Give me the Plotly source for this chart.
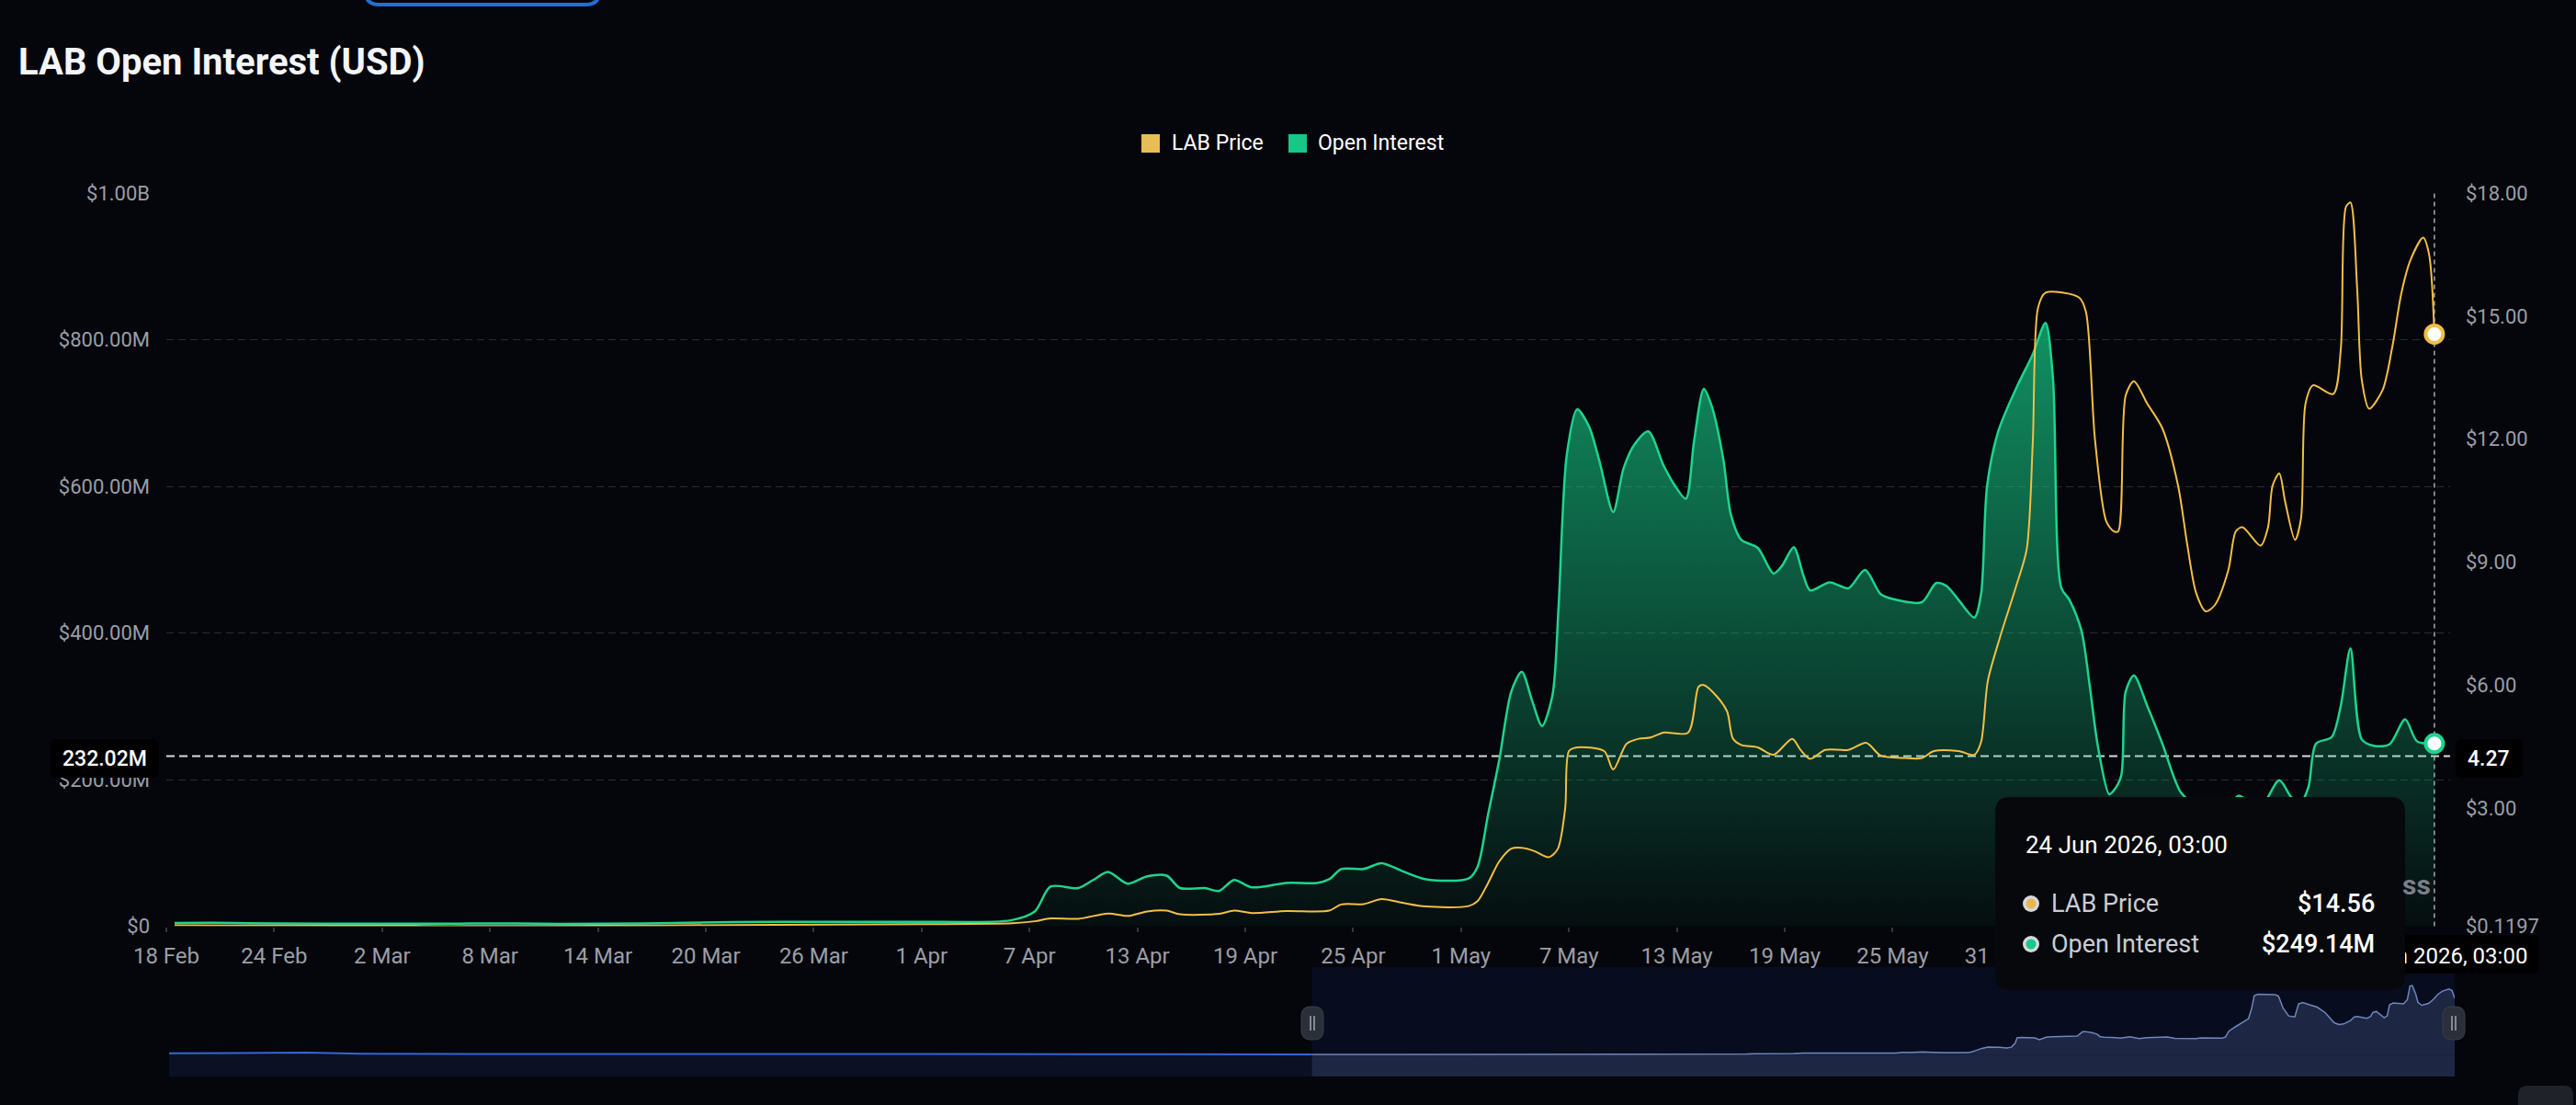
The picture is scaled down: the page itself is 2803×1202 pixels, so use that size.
import plotly.graph_objects as go

# ---------------- data ----------------
oi_dates = [
    "2026-02-18 11:00", "2026-02-20 12:00", "2026-02-24 02:00", "2026-03-01 05:00", "2026-03-06 08:00",
    "2026-03-09 09:00", "2026-03-11 22:00", "2026-03-16 13:00", "2026-03-21 15:00", "2026-03-26 18:00",
    "2026-03-29 20:00", "2026-03-31 21:00", "2026-04-05 23:00", "2026-04-07 07:00", "2026-04-08 04:00",
    "2026-04-09 17:00", "2026-04-10 13:00", "2026-04-11 09:00", "2026-04-12 11:00", "2026-04-13 13:00",
    "2026-04-14 15:00", "2026-04-15 09:00", "2026-04-16 18:00", "2026-04-17 13:00", "2026-04-18 09:00",
    "2026-04-19 09:00", "2026-04-21 07:00", "2026-04-23 00:00", "2026-04-23 16:00", "2026-04-24 08:00",
    "2026-04-25 14:00", "2026-04-26 14:00", "2026-04-27 18:00", "2026-04-29 01:00", "2026-05-01 10:00",
    "2026-05-01 22:00", "2026-05-02 12:00", "2026-05-03 03:00", "2026-05-03 19:00", "2026-05-04 09:00",
    "2026-05-04 23:00", "2026-05-05 12:00", "2026-05-06 02:00", "2026-05-06 10:00", "2026-05-06 21:00",
    "2026-05-07 11:00", "2026-05-08 03:00", "2026-05-08 17:00", "2026-05-09 11:00", "2026-05-10 01:00",
    "2026-05-10 16:00", "2026-05-11 10:00", "2026-05-12 06:00", "2026-05-12 22:00", "2026-05-13 12:00",
    "2026-05-13 23:00", "2026-05-14 12:00", "2026-05-14 23:00", "2026-05-15 14:00", "2026-05-16 00:00",
    "2026-05-16 14:00", "2026-05-17 12:00", "2026-05-18 09:00", "2026-05-18 20:00", "2026-05-19 12:00",
    "2026-05-20 01:00", "2026-05-20 10:00", "2026-05-21 12:00", "2026-05-22 13:00", "2026-05-23 11:00",
    "2026-05-24 08:00", "2026-05-25 01:00", "2026-05-26 15:00", "2026-05-27 10:00", "2026-05-28 00:00",
    "2026-05-28 16:00", "2026-05-29 13:00", "2026-05-29 22:00", "2026-05-30 06:00", "2026-05-30 21:00",
    "2026-05-31 21:00", "2026-06-01 19:00", "2026-06-02 12:00", "2026-06-02 22:00", "2026-06-03 09:00",
    "2026-06-03 20:00", "2026-06-04 12:00", "2026-06-04 23:00", "2026-06-05 10:00", "2026-06-06 01:00",
    "2026-06-06 07:00", "2026-06-06 17:00", "2026-06-06 23:00", "2026-06-07 10:00", "2026-06-08 04:00",
    "2026-06-09 00:00", "2026-06-10 01:00", "2026-06-11 04:00", "2026-06-12 04:00", "2026-06-13 06:00",
    "2026-06-14 09:00", "2026-06-15 12:00", "2026-06-16 04:00", "2026-06-16 16:00", "2026-06-17 03:00",
    "2026-06-17 13:00", "2026-06-18 10:00", "2026-06-18 22:00", "2026-06-19 11:00", "2026-06-20 02:00",
    "2026-06-20 18:00", "2026-06-21 15:00", "2026-06-22 12:00", "2026-06-23 04:00", "2026-06-24 03:00",
]
oi_values = [  # USD millions
    4.5, 4.6, 3.8, 3.5, 3.6,
    3.8, 3.2, 3.8, 5.5, 6.0,
    5.8, 6.0, 8.0, 20, 54,
    52, 63, 74, 58, 68,
    69, 52, 52, 48, 63,
    53, 59, 59, 64, 78,
    78, 86, 75, 64, 65,
    81, 152, 227, 320, 347,
    307, 273, 315, 433, 642,
    705, 681, 633, 565, 625,
    658, 675, 629, 600, 583,
    662, 733, 708, 637, 562,
    527, 516, 481, 491, 517,
    478, 458, 469, 461, 486,
    453, 446, 442, 468, 464,
    445, 421, 453, 600, 675,
    734, 780, 823, 747, 462,
    445, 403, 328, 245, 180,
    185, 205, 320, 342, 300,
    249, 182, 160, 150, 178,
    160, 199, 176, 168, 190,
    249, 258, 300, 379, 255,
    246, 248, 282, 252, 249.14,
]

price_dates = [
    "2026-02-18 11:00", "2026-02-24 02:00", "2026-03-03 18:00", "2026-03-05 19:00", "2026-03-07 08:00",
    "2026-03-14 00:00", "2026-03-21 15:00", "2026-03-26 18:00", "2026-03-31 21:00", "2026-04-06 01:00",
    "2026-04-07 07:00", "2026-04-08 04:00", "2026-04-09 17:00", "2026-04-11 09:00", "2026-04-12 11:00",
    "2026-04-13 13:00", "2026-04-14 15:00", "2026-04-15 09:00", "2026-04-17 13:00", "2026-04-18 09:00",
    "2026-04-19 09:00", "2026-04-21 07:00", "2026-04-23 16:00", "2026-04-24 08:00", "2026-04-25 14:00",
    "2026-04-26 14:00", "2026-04-27 18:00", "2026-04-29 01:00", "2026-05-01 10:00", "2026-05-01 22:00",
    "2026-05-02 12:00", "2026-05-03 03:00", "2026-05-03 19:00", "2026-05-04 09:00", "2026-05-05 02:00",
    "2026-05-05 21:00", "2026-05-06 09:00", "2026-05-06 19:00", "2026-05-07 00:00", "2026-05-07 11:00",
    "2026-05-08 23:00", "2026-05-09 11:00", "2026-05-10 05:00", "2026-05-10 21:00", "2026-05-11 13:00",
    "2026-05-12 06:00", "2026-05-13 15:00", "2026-05-14 05:00", "2026-05-14 12:00", "2026-05-15 05:00",
    "2026-05-15 19:00", "2026-05-16 03:00", "2026-05-16 14:00", "2026-05-17 12:00", "2026-05-18 09:00",
    "2026-05-19 10:00", "2026-05-19 21:00", "2026-05-20 10:00", "2026-05-21 06:00", "2026-05-22 13:00",
    "2026-05-23 13:00", "2026-05-24 08:00", "2026-05-25 17:00", "2026-05-26 15:00", "2026-05-27 07:00",
    "2026-05-28 16:00", "2026-05-29 13:00", "2026-05-29 22:00", "2026-05-30 07:00", "2026-05-30 23:00",
    "2026-05-31 21:00", "2026-06-01 11:00", "2026-06-01 19:00", "2026-06-02 02:00", "2026-06-02 12:00",
    "2026-06-04 09:00", "2026-06-04 18:00", "2026-06-05 06:00", "2026-06-05 21:00", "2026-06-06 07:00",
    "2026-06-06 13:00", "2026-06-06 23:00", "2026-06-07 10:00", "2026-06-08 04:00", "2026-06-09 00:00",
    "2026-06-09 21:00", "2026-06-10 09:00", "2026-06-10 21:00", "2026-06-11 10:00", "2026-06-11 22:00",
    "2026-06-12 16:00", "2026-06-13 02:00", "2026-06-13 11:00", "2026-06-14 11:00", "2026-06-14 21:00",
    "2026-06-15 03:00", "2026-06-15 12:00", "2026-06-15 20:00", "2026-06-16 09:00", "2026-06-16 17:00",
    "2026-06-16 23:00", "2026-06-17 09:00", "2026-06-18 12:00", "2026-06-18 22:00", "2026-06-19 05:00",
    "2026-06-19 11:00", "2026-06-19 20:00", "2026-06-20 02:00", "2026-06-20 12:00", "2026-06-21 06:00",
    "2026-06-21 19:00", "2026-06-22 07:00", "2026-06-22 19:00", "2026-06-23 12:00", "2026-06-23 20:00",
    "2026-06-24 03:00",
]
price_values = [
    0.14, 0.135, 0.13, 0.1197, 0.125,
    0.13, 0.15, 0.16, 0.17, 0.19,
    0.24, 0.31, 0.30, 0.43, 0.37,
    0.48, 0.50, 0.41, 0.42, 0.50,
    0.44, 0.49, 0.50, 0.65, 0.66,
    0.78, 0.69, 0.60, 0.61, 0.73,
    1.17, 1.70, 2.01, 2.03, 1.95,
    1.80, 2.00, 3.00, 4.39, 4.48,
    4.39, 3.94, 4.57, 4.69, 4.72,
    4.84, 4.84, 5.96, 6.00, 5.73,
    5.36, 4.69, 4.54, 4.48, 4.30,
    4.69, 4.42, 4.20, 4.42, 4.42,
    4.59, 4.28, 4.22, 4.22, 4.39,
    4.39, 4.30, 4.61, 6.10, 7.15,
    8.42, 9.32, 11.9, 15.2, 15.57,
    15.45, 15.10, 12.0, 10.0, 9.75,
    9.75, 13.06, 13.41, 12.86, 12.26,
    10.86, 9.45, 8.25, 7.80, 7.95,
    8.80, 9.75, 9.85, 9.40, 9.85,
    10.86, 11.16, 10.46, 9.54, 10.06,
    12.86, 13.31, 13.10, 14.16, 17.66,
    17.77, 15.66, 13.46, 12.74, 13.20,
    14.26, 15.56, 16.36, 16.91, 16.50,
    14.56,
]

# earlier price history shown only in the zoom slider
history_dates = [
    "2025-10-15 19:00", "2025-10-22 00:00", "2025-10-31 00:00", "2025-11-06 00:00", "2025-11-20 00:00",
    "2025-12-05 00:00", "2025-12-20 00:00", "2026-01-05 00:00", "2026-01-25 00:00", "2026-02-10 00:00",
]
history_prices = [0.45, 0.50, 0.60, 0.30, 0.25, 0.30, 0.20, 0.25, 0.20, 0.18]

# visible x tick labels (the June ones sit under the tooltip in the reference)
x_tick_dates = [
    "2026-02-18", "2026-02-24", "2026-03-02", "2026-03-08", "2026-03-14", "2026-03-20", "2026-03-26",
    "2026-04-01", "2026-04-07", "2026-04-13", "2026-04-19", "2026-04-25", "2026-05-01", "2026-05-07",
    "2026-05-13", "2026-05-19", "2026-05-25", "2026-05-31",
]
x_tick_labels = [
    "18 Feb", "24 Feb", "2 Mar", "8 Mar", "14 Mar", "20 Mar", "26 Mar", "1 Apr", "7 Apr", "13 Apr",
    "19 Apr", "25 Apr", "1 May", "7 May", "13 May", "19 May", "25 May", "31 May",
]
oi_ticks = [0, 200, 400, 600, 800, 1000]
oi_tick_labels = ["$0", "$200.00M", "$400.00M", "$600.00M", "$800.00M", "$1.00B"]
price_ticks = [0.1197, 3, 6, 9, 12, 15, 18]
price_tick_labels = ["$0.1197", "$3.00", "$6.00", "$9.00", "$12.00", "$15.00", "$18.00"]

oi_range = [0, 1000]
price_range = [0.1197, 18]
x_range = ["2026-02-18 00:00", "2026-06-25 00:00"]
slider_range = ["2025-10-15 19:00", "2026-06-24 03:00"]
slider_y_range = [-5.5, 22.5]

crosshair_oi = 232.02          # USD millions, where the pointer sits
hover_label = "24 Jun 2026, 03:00"

# ---------------- geometry helpers ----------------
W, H = 2803, 1202
ML, MR, MT, MB = 181, 132, 210, 31
PW = W - ML - MR
PH = H - MT - MB
BOTTOM = H - MB


def px(x):
    return (x - ML) / PW


def py(y):
    return (BOTTOM - y) / PH


def rrect(x0, y0, x1, y1, r):
    pts = [
        ("M", [(x0 + r, y0)]), ("L", [(x1 - r, y0)]), ("Q", [(x1, y0), (x1, y0 + r)]),
        ("L", [(x1, y1 - r)]), ("Q", [(x1, y1), (x1 - r, y1)]), ("L", [(x0 + r, y1)]),
        ("Q", [(x0, y1), (x0, y1 - r)]), ("L", [(x0, y0 + r)]), ("Q", [(x0, y0), (x0 + r, y0)]),
    ]
    s = ""
    for cmd, ps in pts:
        s += cmd + " " + " ".join(f"{px(a):.6f},{py(b):.6f}" for a, b in ps) + " "
    return s + "Z"


BG = "#05060b"
GREEN = "#1ed48e"
GOLD = "#f2bf45"
FONT = "Roboto, Inter, 'Noto Sans', sans-serif"
TICK_COL = "#9a9ea7"
GRID_COL = "#2a2d34"

main_dom_x = [0, px(2666)]
main_dom_y = [py(1007.5), 1]

fig = go.Figure()

# Open interest area
fig.add_trace(go.Scatter(
    x=oi_dates, y=oi_values, mode="lines", xaxis="x", yaxis="y",
    line=dict(color=GREEN, width=2.5, shape="spline", smoothing=0.8),
    fill="tozeroy",
    fillgradient=dict(type="vertical",
                      colorscale=[[0, "rgba(22,199,132,0.04)"], [1, "rgba(22,199,132,0.72)"]],
                      start=0, stop=max(oi_values)),
    hoverinfo="skip", showlegend=False,
))
fig.add_trace(go.Scatter(
    x=[oi_dates[-1]], y=[oi_values[-1]], mode="markers", xaxis="x", yaxis="y",
    marker=dict(size=19, color="#ffffff", line=dict(color=GREEN, width=4)),
    hoverinfo="skip", showlegend=False,
))
# Price line
fig.add_trace(go.Scatter(
    x=price_dates, y=price_values, mode="lines", xaxis="x", yaxis="y2",
    line=dict(color=GOLD, width=2, shape="spline", smoothing=0.8),
    hoverinfo="skip", showlegend=False,
))
fig.add_trace(go.Scatter(
    x=[price_dates[-1]], y=[price_values[-1]], mode="markers", xaxis="x", yaxis="y2",
    marker=dict(size=19, color="#ffffff", line=dict(color=GOLD, width=4)),
    hoverinfo="skip", showlegend=False,
))
# slider mini chart
fig.add_trace(go.Scatter(
    x=history_dates + price_dates[:1], y=history_prices + price_values[:1], mode="lines",
    xaxis="x3", yaxis="y3", line=dict(color="#3566d6", width=2), fill="tozeroy", fillcolor="#0b1122",
    hoverinfo="skip", showlegend=False,
))
fig.add_trace(go.Scatter(
    x=price_dates, y=price_values, mode="lines",
    xaxis="x3", yaxis="y3", line=dict(color="#6f86bd", width=1.5), fill="tozeroy", fillcolor="#1d2743",
    hoverinfo="skip", showlegend=False,
))
# invisible anchor for the crosshair date label axis
fig.add_trace(go.Scatter(
    x=[oi_dates[-1]], y=[oi_values[-1]], mode="markers", xaxis="x4", yaxis="y",
    marker=dict(opacity=0), hoverinfo="skip", showlegend=False,
))

# crosshair price equivalent of the pointer height
cross_price = price_range[0] + (crosshair_oi - oi_range[0]) / (oi_range[1] - oi_range[0]) * (price_range[1] - price_range[0])

shapes = []
# slider backgrounds
shapes.append(dict(type="rect", xref="paper", yref="paper", x0=px(1427.5), x1=px(2671), y0=py(1171), y1=py(1052),
                   fillcolor="#070d1e", line_width=0, layer="below"))
shapes.append(dict(type="rect", xref="paper", yref="y3", x0=px(184), x1=px(1427.5), y0=slider_y_range[0], y1=0,
                   fillcolor="#0b1122", line_width=0, layer="below"))
shapes.append(dict(type="rect", xref="paper", yref="y3", x0=px(1427.5), x1=px(2671), y0=slider_y_range[0], y1=0,
                   fillcolor="#1d2743", line_width=0, layer="below"))
# crosshair date label box
shapes.append(dict(type="path", path=rrect(2538, 1017, 2762, 1059, 6), xref="paper", yref="paper",
                   fillcolor="#000000", line_width=0, layer="below"))
# crosshair lines
shapes.append(dict(type="line", xref="x", yref="paper", x0=oi_dates[-1], x1=oi_dates[-1], y0=py(1007.5), y1=1,
                   line=dict(color="#a7abb2", width=1.5, dash="5px,4px"), layer="between"))
shapes.append(dict(type="line", xref="paper", yref="y", x0=0, x1=px(2666), y0=crosshair_oi, y1=crosshair_oi,
                   line=dict(color="#d8dade", width=2, dash="9px,5px"), layer="between"))
# crosshair value boxes
shapes.append(dict(type="path", path=rrect(55, 804, 173, 846, 6), xref="paper", yref="paper",
                   fillcolor="#000000", line_width=0, layer="above"))
shapes.append(dict(type="path", path=rrect(2672, 804, 2745, 846, 6), xref="paper", yref="paper",
                   fillcolor="#000000", line_width=0, layer="above"))
# tooltip
shapes.append(dict(type="path", path=rrect(2171, 867, 2617, 1077, 16), xref="paper", yref="paper",
                   fillcolor="#07080c", line_width=0, layer="above"))
for cy, col in [(983, "#e8b84e"), (1027, "#18c986")]:
    shapes.append(dict(type="circle", xref="paper", yref="paper", x0=px(2201), x1=px(2219), y0=py(cy + 9), y1=py(cy - 9),
                       fillcolor="#d5d8de", line_width=0, layer="above"))
    shapes.append(dict(type="circle", xref="paper", yref="paper", x0=px(2204.5), x1=px(2215.5), y0=py(cy + 5.5), y1=py(cy - 5.5),
                       fillcolor=col, line_width=0, layer="above"))
# legend squares
shapes.append(dict(type="rect", xref="paper", yref="paper", x0=px(1242), x1=px(1262), y0=py(166), y1=py(146),
                   fillcolor="#e9bd55", line_width=0, layer="above"))
shapes.append(dict(type="rect", xref="paper", yref="paper", x0=px(1402), x1=px(1422), y0=py(166), y1=py(146),
                   fillcolor="#18c787", line_width=0, layer="above"))
# slider handles
for hx in [1428, 2670]:
    shapes.append(dict(type="path", path=rrect(hx - 12, 1095, hx + 12, 1131, 10), xref="paper", yref="paper",
                       fillcolor="#2b2f3a", line=dict(color="#3a3f4b", width=1), layer="above"))
    for dx in [-2, 2]:
        shapes.append(dict(type="line", xref="paper", yref="paper", x0=px(hx + dx), x1=px(hx + dx),
                           y0=py(1121), y1=py(1105), line=dict(color="#a3a7b0", width=1.5), layer="above"))
# partially visible page button at top and corner icon
shapes.append(dict(type="path", path=rrect(398, -40, 652, 5, 14), xref="paper", yref="paper",
                   fillcolor="rgba(0,0,0,0)", line=dict(color="#1f6fd6", width=4), layer="above"))
shapes.append(dict(type="path", path=rrect(2740, 1181, 2800, 1232, 10), xref="paper", yref="paper",
                   fillcolor="#1f2229", line_width=0, layer="above"))

ann = []


def text(x, y, s, size, color, anchor="left", weight=400, yanchor="middle"):
    ann.append(dict(x=px(x), y=py(y), xref="paper", yref="paper", text=s, showarrow=False,
                    xanchor=anchor, yanchor=yanchor,
                    font=dict(family=FONT, size=size, color=color, weight=weight)))


text(18, 67, "LAB Open Interest (USD)", 40, "#f4f5f7", weight=700)
text(1273, 156, "LAB Price", 23, "#ffffff")
text(1432, 156, "Open Interest", 23, "#ffffff")
text(114, 825, f"{crosshair_oi:.2f}M", 23, "#ffffff", anchor="center", weight=500)
text(2708, 825, f"{cross_price:.2f}", 23, "#ffffff", anchor="center", weight=500)
text(2647, 962, "ss", 30, "#7b7f87", anchor="right", weight=700)
text(2202, 919, hover_label, 26, "#ffffff")
text(2230, 983, "LAB Price", 27, "#c9cdd5")
text(2586, 983, f"${price_values[-1]:.2f}", 27, "#ffffff", anchor="right", weight=500)
text(2230, 1027, "Open Interest", 27, "#c9cdd5")
text(2586, 1027, f"${oi_values[-1]:.2f}M", 27, "#ffffff", anchor="right", weight=500)

fig.update_layout(
    width=W, height=H,
    margin=dict(l=ML, r=MR, t=MT, b=MB, pad=0),
    paper_bgcolor=BG, plot_bgcolor=BG,
    hovermode=False, showlegend=False,
    font=dict(family=FONT, color=TICK_COL),
    xaxis=dict(domain=main_dom_x, anchor="y", type="date", range=x_range,
               tickvals=x_tick_dates, ticktext=x_tick_labels,
               tickfont=dict(size=24, color=TICK_COL),
               ticks="outside", ticklen=5, tickcolor="#33363e", tickwidth=1.5,
               ticklabelstandoff=6,
               showgrid=False, zeroline=False, showline=False),
    xaxis4=dict(overlaying="x", anchor="y", type="date", range=x_range, domain=main_dom_x,
                tickvals=[oi_dates[-1]], ticktext=[hover_label],
                tickfont=dict(size=24, color="#ffffff"),
                ticks="outside", ticklen=5, tickcolor="rgba(0,0,0,0)", ticklabelstandoff=6,
                showgrid=False, zeroline=False, showline=False),
    yaxis=dict(domain=main_dom_y, anchor="x", range=oi_range,
               tickvals=oi_ticks, ticktext=oi_tick_labels,
               tickfont=dict(size=22, color=TICK_COL), ticklabelstandoff=17,
               showgrid=True, gridcolor=GRID_COL, gridwidth=1.3, griddash="8px,5px",
               zeroline=False, showline=False),
    yaxis2=dict(overlaying="y", anchor="x", side="right", range=price_range,
                tickvals=price_ticks, ticktext=price_tick_labels,
                tickfont=dict(size=22, color=TICK_COL), ticklabelstandoff=16,
                showgrid=False, zeroline=False, showline=False),
    xaxis3=dict(domain=[px(184), 1], anchor="y3", type="date", range=slider_range,
                showticklabels=False, showgrid=False, zeroline=False, showline=False, ticks=""),
    yaxis3=dict(domain=[0, py(1052)], anchor="x3", range=slider_y_range,
                showticklabels=False, showgrid=False, zeroline=False, showline=False, ticks=""),
    shapes=shapes,
    annotations=ann,
)

fig.write_html("out.html")
